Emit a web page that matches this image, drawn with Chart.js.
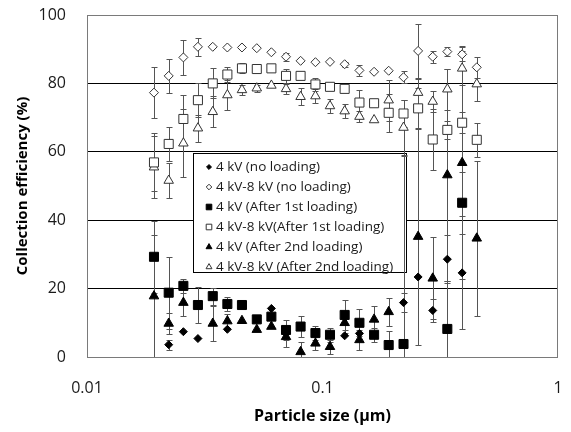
<!DOCTYPE html>
<html>
<head>
<meta charset="utf-8">
<script src="https://cdn.jsdelivr.net/npm/chart.js@4.4.1/dist/chart.umd.min.js"></script>
<style>
  html, body { margin: 0; padding: 0; background: #fff; }
  #wrap { width: 571px; height: 432px; }
</style>
</head>
<body>
<div id="wrap"><canvas id="effChart" width="571" height="432"></canvas></div>
<script>
// particle sizes (um)
const sizes = [0.01925, 0.02223, 0.02566, 0.02958, 0.03420, 0.03945, 0.04550, 0.05260,
               0.06067, 0.07000, 0.08072, 0.09333, 0.1076, 0.1242, 0.1435, 0.1656,
               0.1910, 0.2208, 0.2547, 0.2938, 0.3389, 0.3917, 0.4519];

const xTicks = [0.01, 0.1, 1];
const yTicks = [0, 20, 40, 60, 80, 100];

const labels = ["4 kV (no loading)", "4 kV-8 kV (no loading)", "4 kV (After 1st loading)",
                "4 kV-8 kV(After 1st loading)", "4 kV (After 2nd loading)", "4 kV-8 kV (After 2nd loading)"];

// 4 kV (no loading)
const noLoad4 = [null, 3.6, 7.4, 5.4, null, 8.1, null, null, 14.2, null, null, null,
                 null, 6.2, 6.9, null, null, 15.9, 23.4, 13.6, 28.6, 24.6, null];
const noLoad4Err = [0, 1.5, 0, 0, 0, 0, 0, 0, 0, 0, 0, 0,
                    0, 0, 0, 0, 0, 2.7, 0, 3.5, 7, 16.5, 0];
// 4 kV-8 kV (no loading)
const noLoad8 = [77.3, 82.2, 87.6, 90.7, 90.7, 90.5, 90.5, 90.3, 89.1, 87.8, 86.6, 86.2,
                 86.3, 85.6, 83.8, 83.4, 83.7, 81.8, 89.5, 87.8, 89.3, 88.5, 84.7];
const noLoad8Err = [7.5, 5, 5, 2.6, 0, 0, 0, 0, 0, 1.2, 0, 0,
                    0, 0.8, 1.5, 0, 0, 1.7, 7.8, 1.7, 1.2, 2, 3];
// 4 kV (After 1st loading)
const first4 = [29.3, 18.8, 20.8, 15.2, 17.8, 15.5, 15.2, 11.0, 11.8, 7.9, 8.9, 7.0,
                6.5, 12.3, 10.0, 6.5, 3.5, 3.8, null, null, 8.2, 45.1, null];
const first4Err = [10.5, 10.5, 2, 5.4, 2.5, 2, 0, 0, 0, 3, 3, 2,
                   2, 4.5, 4, 2, 4, 55, 0, 0, 14, 9, 0];
// 4 kV-8 kV (After 1st loading)
const first8 = [56.9, 62.3, 69.6, 75.1, 80.0, 82.6, 84.4, 84.2, 84.4, 82.2, 82.2, 79.7,
                79.0, 78.4, 74.4, 74.2, 71.4, 71.2, 72.7, 63.6, 66.4, 68.5, 63.5];
const first8Err = [8.5, 5, 7, 5, 4.4, 2.3, 1.5, 0, 0, 2, 0, 2,
                   0, 0, 3.7, 0, 5.5, 4, 6, 9, 2.6, 3, 5];
// 4 kV (After 2nd loading)
const second4 = [17.8, 9.8, 15.9, null, 9.8, 10.5, 10.6, 8.0, 8.9, 5.9, 1.5, 4.0,
                 3.0, 10.0, 5.0, 11.0, 13.2, null, 35.2, 23.0, 53.2, 56.8, 34.7];
const second4Err = [18, 3, 4, 0, 5, 2, 0, 0, 0, 3, 3, 2,
                    2, 3, 3, 4, 4, 0, 31.7, 12, 31, 34, 22.6];
// 4 kV-8 kV (After 2nd loading)
const second8 = [55.5, 51.6, 62.5, 66.9, 71.7, 76.6, 78.1, 78.6, 79.4, 78.4, 76.1, 76.3,
                 73.4, 71.9, 70.3, 69.3, 75.1, 67.1, 77.3, 74.7, 78.3, 84.4, 79.8];
const second8Err = [9, 5, 10, 4, 4.5, 4.5, 1.5, 1, 0, 1.5, 2.5, 2,
                    2, 2, 1.5, 0, 6, 8, 4, 3, 6, 5, 5];

function toPoints(vals) {
    return sizes.map((s, i) => ({ x: s, y: vals[i] })).filter(p => p.y !== null);
}

const seriesVals = [noLoad4, noLoad8, first4, first8, second4, second8];
const seriesErr = [noLoad4Err, noLoad8Err, first4Err, first8Err, second4Err, second8Err];
const styles = [
    { pointStyle: 'rectRot', radius: 4, fill: '#000', border: '#000' },
    { pointStyle: 'rectRot', radius: 4.5, fill: '#fff', border: '#333' },
    { pointStyle: 'rect', radius: 6.4, fill: '#000', border: '#000' },
    { pointStyle: 'rect', radius: 6.4, fill: '#fff', border: '#333' },
    { pointStyle: 'triangle', radius: 5.5, fill: '#000', border: '#000' },
    { pointStyle: 'triangle', radius: 5.5, fill: '#fff', border: '#333' }
];

// where the plot box sits in the reference
const plotBox = { left: 87, top: 15, right: 558, bottom: 357 };

// legend box drawn inside the plot, above the grid
const legendBox = {
    id: 'legendBox',
    beforeDatasetsDraw(chart) {
        const ctx = chart.ctx;
        const bx = 193, by = 153, bw = 213, bh = 119;
        ctx.save();
        ctx.fillStyle = '#fff';
        ctx.fillRect(bx, by, bw, bh);
        ctx.strokeStyle = '#000';
        ctx.lineWidth = 1;
        ctx.strokeRect(bx + 0.5, by + 0.5, bw, bh);
        ctx.font = '13.5px "Open Sans", sans-serif';
        ctx.textBaseline = 'middle';
        labels.forEach((txt, i) => {
            const y = by + 14 + i * 20;
            const st = styles[i];
            ctx.fillStyle = st.fill;
            ctx.strokeStyle = st.border;
            ctx.lineWidth = 1;
            Chart.helpers.drawPoint(ctx, {
                pointStyle: st.pointStyle,
                radius: st.radius * 0.62,
                rotation: 0,
                borderWidth: 1
            }, bx + 16, y);
            ctx.fillStyle = '#1a1a1a';
            ctx.fillText(txt, bx + 23, y);
        });
        ctx.restore();
    }
};

// error bars from the err arrays
const errorBars = {
    id: 'errorBars',
    beforeDatasetsDraw(chart) {
        const ctx = chart.ctx;
        const xs = chart.scales.x, ys = chart.scales.y;
        const area = chart.chartArea;
        ctx.save();
        ctx.beginPath();
        ctx.rect(area.left, area.top, area.right - area.left, area.bottom - area.top);
        ctx.clip();
        ctx.strokeStyle = '#555';
        ctx.lineWidth = 1;
        seriesVals.forEach((vals, k) => {
            vals.forEach((v, i) => {
                const e = seriesErr[k][i];
                if (v === null || !e) return;
                const x = Math.round(xs.getPixelForValue(sizes[i])) + 0.5;
                const y1 = Math.round(ys.getPixelForValue(v + e)) + 0.5;
                const y2 = Math.round(ys.getPixelForValue(v - e)) + 0.5;
                ctx.beginPath();
                ctx.moveTo(x, y1); ctx.lineTo(x, y2);
                ctx.moveTo(x - 3, y1); ctx.lineTo(x + 3, y1);
                ctx.moveTo(x - 3, y2); ctx.lineTo(x + 3, y2);
                ctx.stroke();
            });
        });
        ctx.restore();
    }
};

const frame = {
    id: 'frame',
    afterDraw(chart) {
        const a = chart.chartArea;
        const ctx = chart.ctx;
        ctx.save();
        ctx.strokeStyle = '#7a7a7a';
        ctx.lineWidth = 1;
        ctx.strokeRect(a.left + 0.5, a.top + 0.5, a.right - a.left - 1, a.bottom - a.top);
        ctx.restore();
    }
};

const chart = new Chart(document.getElementById('effChart'), {
    type: 'scatter',
    data: {
        datasets: seriesVals.map((vals, k) => ({
            label: labels[k],
            data: toPoints(vals),
            pointStyle: styles[k].pointStyle,
            pointRadius: styles[k].radius,
            pointHoverRadius: styles[k].radius,
            backgroundColor: styles[k].fill,
            borderColor: styles[k].border,
            pointBorderWidth: 1,
            showLine: false
        }))
    },
    options: {
        responsive: false,
        animation: false,
        devicePixelRatio: 1,
        layout: { padding: { left: 0, right: 13, top: 15, bottom: 0 } },
        plugins: {
            legend: { display: false },
            tooltip: { enabled: false }
        },
        scales: {
            x: {
                type: 'logarithmic',
                min: 0.01,
                max: 1,
                afterFit: (s) => { s.height = 432 - plotBox.bottom; },
                afterBuildTicks: (s) => { s.ticks = xTicks.map(v => ({ value: v })); },
                // invisible tick marks give the label gap without widening the padding
                grid: { display: false, drawTicks: true, tickLength: 22 },
                border: { display: false },
                ticks: {
                    autoSkip: false,
                    maxRotation: 0,
                    padding: 0,
                    color: '#1a1a1a',
                    font: { family: '"Open Sans", sans-serif', size: 16 },
                    callback: (v) => String(v)
                },
                title: {
                    display: true,
                    text: 'Particle size (μm)',
                    color: '#000',
                    font: { family: '"Open Sans", sans-serif', size: 16, weight: 'bold' },
                    padding: { top: 0, bottom: 6 }
                }
            },
            y: {
                min: 0,
                max: 100,
                afterFit: (s) => { s.width = plotBox.left; },
                afterBuildTicks: (s) => { s.ticks = yTicks.map(v => ({ value: v })); },
                grid: {
                    drawTicks: true,
                    tickLength: 21,
                    tickColor: 'rgba(0,0,0,0)',
                    color: (c) => (c.tick && (c.tick.value === 0 || c.tick.value === 100)) ? 'rgba(0,0,0,0)' : '#000'
                },
                border: { display: false },
                ticks: {
                    padding: 0,
                    color: '#1a1a1a',
                    font: { family: '"Open Sans", sans-serif', size: 16 }
                },
                title: {
                    display: true,
                    text: 'Collection efficiency (%)',
                    color: '#000',
                    font: { family: '"Open Sans", sans-serif', size: 15, weight: 'bold' },
                    padding: { top: 14, bottom: 0 }
                }
            }
        }
    },
    plugins: [legendBox, errorBars, frame]
});

// nudge the layout padding so the plot box lands where the reference has it
const pad = chart.options.layout.padding;
const got = chart.chartArea;
pad.top = Math.max(0, pad.top + plotBox.top - got.top);
pad.right = Math.max(0, pad.right + got.right - plotBox.right);
chart.update();
</script>
</body>
</html>
